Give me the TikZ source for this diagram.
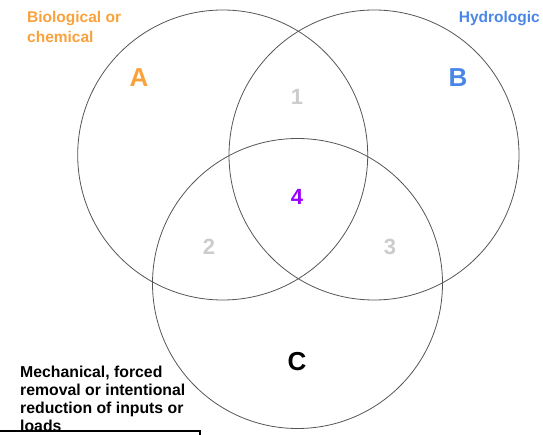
\documentclass[tikz,border=0pt]{standalone}
\usepackage{fontspec}
\setmainfont{Liberation Sans}
\usepackage{tikz}
\usetikzlibrary{positioning}

\definecolor{bioorange}{HTML}{F9A23C}
\definecolor{hydroblue}{HTML}{4A86E8}
\definecolor{allpurple}{HTML}{9900FF}
\definecolor{pairgray}{HTML}{CCCCCC}
\definecolor{rimgray}{HTML}{555555}

\tikzset{
  setcircle/.style={draw=rimgray,line width=0.8pt,circle,minimum size=290pt,inner sep=0pt},
  setletter/.style={font=\fontsize{26}{26}\selectfont\bfseries,inner sep=0pt},
  zonenum/.style={font=\fontsize{22}{22}\selectfont\bfseries,inner sep=0pt,text=pairgray},
  caption/.style={font=\fontsize{15.5}{19.5}\selectfont\bfseries,inner sep=0pt,align=left}
}

\begin{document}
\begin{tikzpicture}[x=1pt,y=-1pt]
  \useasboundingbox (0,0) rectangle (543,435);
  % the three sets
  \node[setcircle] (setA) at (222.7,155) {};
  \node[setcircle] (setB) at (374,155)   {};
  \node[setcircle] (setC) at (297.5,283.5) {};
  % set letters
  \node[setletter,text=bioorange] (lblA) at (139,78)  {A};
  \node[setletter,text=hydroblue] (lblB) at (458,78)  {B};
  \node[setletter,text=black]     (lblC) at (297,362) {C};
  % overlap zones
  \node[zonenum] (zone1) at (297,97)  {1};
  \node[zonenum] (zone2) at (209,247) {2};
  \node[zonenum] (zone3) at (390,247) {3};
  \node[zonenum,text=allpurple] (zone4) at (297,197) {4};
  % captions (base = last line)
  \node[caption,text=bioorange,anchor=base west] (capA) at (27,42.3) {Biological or\\chemical};
  \node[caption,text=hydroblue,anchor=base east] (capB) at (540,22.7) {Hydrologic};
  \node[caption,text=black,anchor=base west,font=\fontsize{15.8}{18}\selectfont\bfseries] (capC) at (20,431)
       {Mechanical, forced\\removal or intentional\\reduction of inputs or\\loads};
  % box edge across the last line
  \coordinate (edgeL) at (0,431);
  \coordinate (edgeR) at (200,431);
  \coordinate (edgeD) at (200,436);
  \draw[line width=2pt] (edgeL) -- (edgeR) -- (edgeD);
\end{tikzpicture}
\end{document}
